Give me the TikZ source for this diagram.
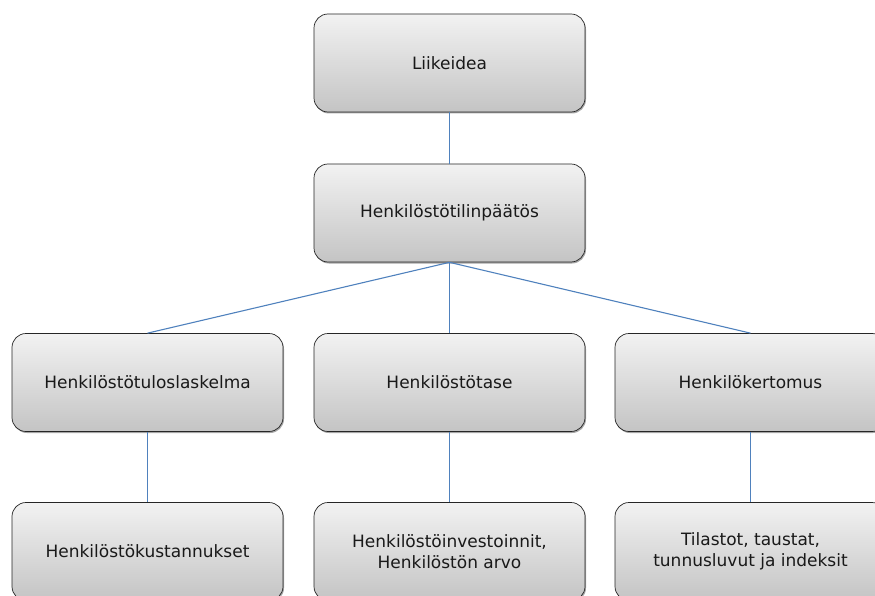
\documentclass[tikz,border=0pt]{standalone}
\usepackage{fontspec}
\setmainfont{DejaVu Sans}
\usetikzlibrary{shadows}
\definecolor{linkblue}{RGB}{79,129,189}
\definecolor{boxtop}{RGB}{242,242,242}
\definecolor{boxbot}{RGB}{196,196,196}
\definecolor{txt}{RGB}{25,25,25}
\tikzset{
  box/.style={draw=black!85, line width=0.7pt, rounded corners=14pt,
    top color=boxtop, bottom color=boxbot,
    minimum width=271pt, minimum height=98pt, inner sep=2pt,
    align=center, text=txt, font=\fontsize{17}{21}\selectfont,
    general shadow={shadow xshift=1pt, shadow yshift=-1.5pt, fill=black!35}},
  link/.style={draw=linkblue, line width=1.1pt}
}
\begin{document}
\begin{tikzpicture}[x=1pt,y=-1pt]
\useasboundingbox (0,0) rectangle (875,596);
\clip (0,0) rectangle (875,596);
\node[box] (idea) at (449.5,63) {Liikeidea};
\node[box] (tili) at (449.5,213) {Henkilöstötilinpäätös};
\node[box] (tulo) at (147.5,382.5) {Henkilöstötuloslaskelma};
\node[box] (tase) at (449.5,382.5) {Henkilöstötase};
\node[box] (kert) at (750.5,382.5) {Henkilökertomus};
\node[box] (kust) at (147.5,551.5) {Henkilöstökustannukset};
\node[box] (inv) at (449.5,551.5) {Henkilöstöinvestoinnit,\\Henkilöstön arvo};
\node[box] (tila) at (750.5,551.5) {Tilastot, taustat,\\tunnusluvut ja indeksit};
\draw[link] (idea.south) -- (tili.north);
\draw[link] (tili.south) -- (tulo.north);
\draw[link] (tili.south) -- (tase.north);
\draw[link] (tili.south) -- (kert.north);
\draw[link] (tulo.south) -- (kust.north);
\draw[link] (tase.south) -- (inv.north);
\draw[link] (kert.south) -- (tila.north);
\end{tikzpicture}
\end{document}
